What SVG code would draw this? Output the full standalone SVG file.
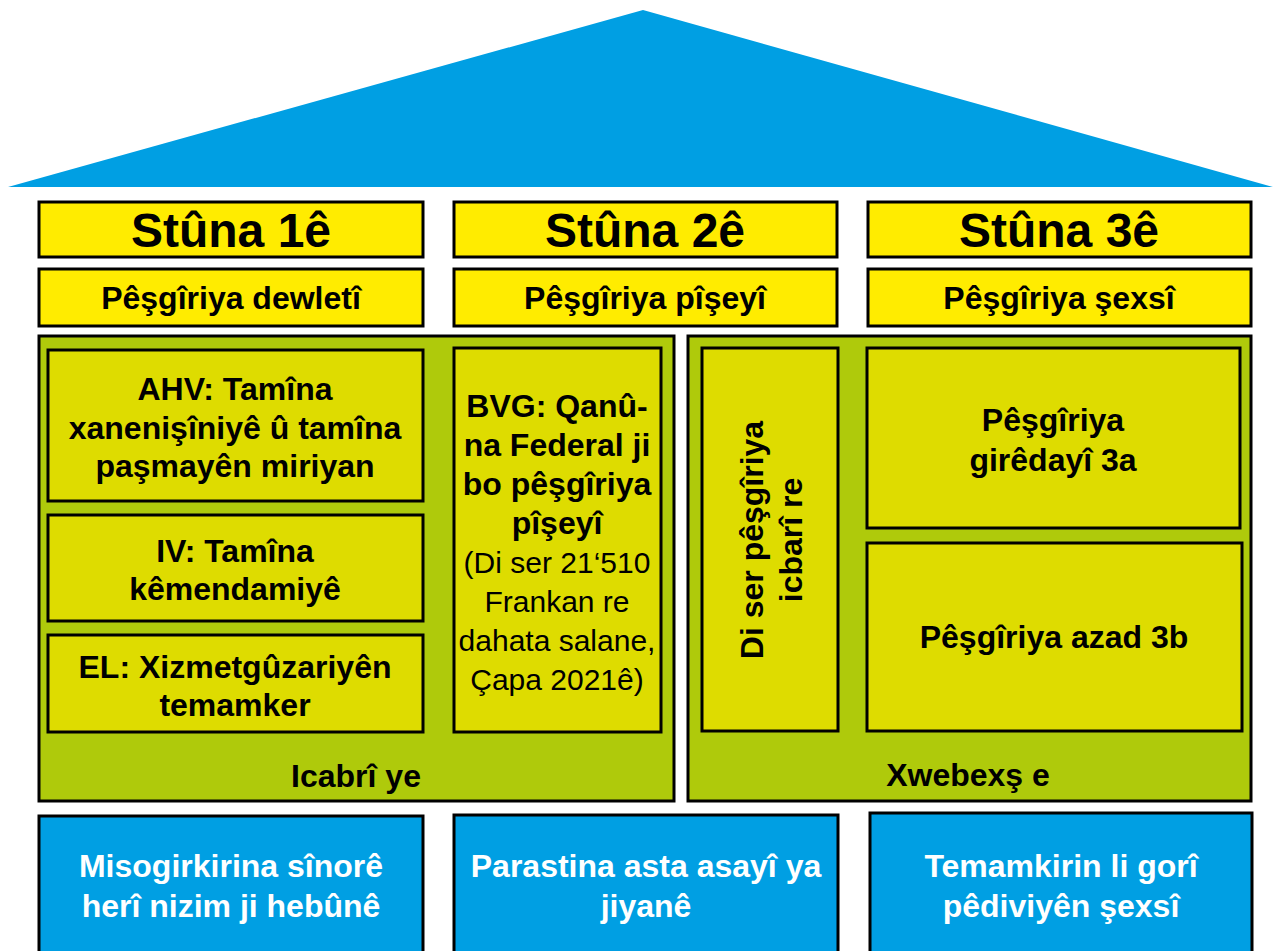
<svg xmlns="http://www.w3.org/2000/svg" width="1273" height="951" viewBox="0 0 1273 951">
<style>
.t{font-family:"Liberation Sans",Arial,sans-serif;font-weight:bold;text-anchor:middle;fill:#000;font-size:32px}
.r{font-weight:normal;font-size:30px}
.w{fill:#fff}
.yel{fill:#FFEC00;stroke:#000;stroke-width:3}
.grn{fill:#AFCA0B;stroke:#000;stroke-width:3}
.inn{fill:#DEDC00;stroke:#000;stroke-width:3}
.blu{fill:#009FE3;stroke:#000;stroke-width:3}
</style>
<rect width="1273" height="951" fill="#fff"/>
<g id="roof"><polygon points="643,10 8,187 1273,187" fill="#009FE3"/></g>

<g id="pillar1-title"><rect class="yel" x="39" y="202" width="384" height="55"/><text class="t" x="231" y="247" style="font-size:48px">Stûna 1ê</text></g>
<g id="pillar2-title"><rect class="yel" x="454" y="202" width="383" height="55"/><text class="t" x="645" y="247" style="font-size:48px">Stûna 2ê</text></g>
<g id="pillar3-title"><rect class="yel" x="868" y="202" width="383" height="55"/><text class="t" x="1059" y="247" style="font-size:48px">Stûna 3ê</text></g>

<g id="pillar1-sub"><rect class="yel" x="39" y="269" width="384" height="57"/><text class="t" x="231" y="309">Pêşgîriya dewletî</text></g>
<g id="pillar2-sub"><rect class="yel" x="454" y="269" width="383" height="57"/><text class="t" x="645" y="309">Pêşgîriya pîşeyî</text></g>
<g id="pillar3-sub"><rect class="yel" x="868" y="269" width="383" height="57"/><text class="t" x="1059" y="309">Pêşgîriya şexsî</text></g>

<g id="mandatory"><rect class="grn" x="39" y="336" width="635" height="465"/><text class="t" x="356" y="787">Icabrî ye</text></g>
<g id="voluntary"><rect class="grn" x="688" y="336" width="563" height="465"/><text class="t" x="968" y="786">Xwebexş e</text></g>

<g id="ahv"><rect class="inn" x="48" y="350" width="375" height="151"/>
<text class="t" x="235" y="400">AHV: Tamîna</text>
<text class="t" x="235" y="439">xanenişîniyê û tamîna</text>
<text class="t" x="235" y="477">paşmayên miriyan</text></g>
<g id="iv"><rect class="inn" x="48" y="515" width="375" height="106"/>
<text class="t" x="235" y="562">IV: Tamîna</text>
<text class="t" x="235" y="600">kêmendamiyê</text></g>
<g id="el"><rect class="inn" x="48" y="635" width="375" height="97"/>
<text class="t" x="235" y="678">EL: Xizmetgûzariyên</text>
<text class="t" x="235" y="716">temamker</text></g>

<g id="bvg"><rect class="inn" x="454" y="348" width="207" height="384"/>
<text class="t" x="557" y="417">BVG: Qanû-</text>
<text class="t" x="557" y="456">na Federal ji</text>
<text class="t" x="557" y="495">bo pêşgîriya</text>
<text class="t" x="557" y="534">pîşeyî</text>
<text class="t r" x="557" y="573">(Di ser 21‘510</text>
<text class="t r" x="557" y="612">Frankan re</text>
<text class="t r" x="557" y="651">dahata salane,</text>
<text class="t r" x="557" y="690">Çapa 2021ê)</text></g>

<g id="mandatory-occ"><rect class="inn" x="702" y="348" width="136" height="383"/>
<text class="t" transform="translate(763,540) rotate(-90)">Di ser pêşgîriya</text>
<text class="t" transform="translate(802,540) rotate(-90)">icbarî re</text></g>

<g id="p3a"><rect class="inn" x="867" y="348" width="373" height="180"/>
<text class="t" x="1053" y="431">Pêşgîriya</text>
<text class="t" x="1053" y="471">girêdayî 3a</text></g>
<g id="p3b"><rect class="inn" x="867" y="543" width="375" height="188"/>
<text class="t" x="1054" y="648">Pêşgîriya azad 3b</text></g>

<g id="goal1"><path class="blu" d="M39,953 V816 H423 V953"/>
<text class="t w" x="231" y="877">Misogirkirina sînorê</text>
<text class="t w" x="231" y="917">herî nizim ji hebûnê</text></g>
<g id="goal2"><path class="blu" d="M454,953 V815 H838 V953"/>
<text class="t w" x="646" y="877">Parastina asta asayî ya</text>
<text class="t w" x="646" y="917">jiyanê</text></g>
<g id="goal3"><path class="blu" d="M870,953 V813 H1252 V953"/>
<text class="t w" x="1061" y="877">Temamkirin li gorî</text>
<text class="t w" x="1061" y="917">pêdiviyên şexsî</text></g>
<g id="connectors"/>
</svg>
